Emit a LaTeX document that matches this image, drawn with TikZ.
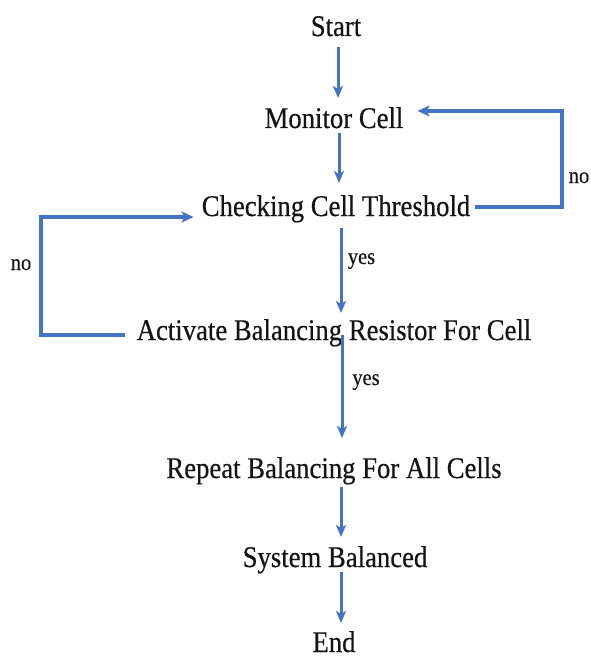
\documentclass[tikz,border=0pt]{standalone}
\usepackage{fontspec}
\setmainfont[FakeStretch=0.89,FakeBold=0.4]{Liberation Serif}
\usetikzlibrary{arrows.meta}
\definecolor{arrblue}{HTML}{4472C4}
\definecolor{txt}{HTML}{141414}
\tikzset{
  lbl/.style={inner sep=0pt, anchor=base, text=txt, font=\fontsize{30}{36}\selectfont},
  small/.style={inner sep=0pt, anchor=base, text=txt, font=\fontsize{23}{27}\selectfont},
  arr/.style={draw=arrblue, line width=3pt, -{Stealth[length=12pt,width=10pt,inset=3pt]}},
  loop/.style={draw=arrblue, line width=3.5pt, -{Stealth[length=12pt,width=11pt,inset=3pt]}}
}
\begin{document}
\begin{tikzpicture}[x=1pt,y=-1pt]
\useasboundingbox (0,0) rectangle (591,658);
\node[lbl] (start) at (336,36) {Start};
\node[lbl] (monitor) at (334,128) {Monitor Cell};
\node[lbl] (checking) at (336,216) {Checking Cell Threshold};
\node[lbl] (activate) at (334,340) {Activate Balancing Resistor For Cell};
\node[lbl] (repeat) at (334,478) {Repeat Balancing For All Cells};
\node[lbl] (system) at (335,567) {System Balanced};
\node[lbl] (end) at (334,652) {End};
\node[small] (yes1) at (361.5,264) {yes};
\node[small] (yes2) at (366,385) {yes};
\node[small] (noR) at (579,183) {no};
\node[small] (noL) at (21,270) {no};
\draw[arr] ([xshift=2pt,yshift=-11pt]start.base) -- ([xshift=4pt,yshift=30pt]monitor.base);
\draw[arr] ([xshift=5pt,yshift=-5pt]monitor.base) -- ([xshift=3pt,yshift=33pt]checking.base);
\draw[arr] ([xshift=5pt,yshift=-12pt]checking.base) -- ([xshift=7pt,yshift=27pt]activate.base);
\draw[arr] ([xshift=8pt,yshift=5pt]activate.base) -- ([xshift=8pt,yshift=40pt]repeat.base);
\draw[arr] ([xshift=7pt,yshift=-9pt]repeat.base) -- ([xshift=6pt,yshift=30pt]system.base);
\draw[arr] ([xshift=6pt,yshift=-5pt]system.base) -- ([xshift=7pt,yshift=29pt]end.base);
\coordinate (cE) at ([xshift=5pt,yshift=9pt]checking.base east);
\coordinate (mE) at ([xshift=14pt,yshift=17pt]monitor.base east);
\coordinate (rc) at (562,0);
\draw[loop] (cE) -| (rc |- mE) -- (mE);
\coordinate (aW) at ([xshift=-12pt,yshift=5pt]activate.base west);
\coordinate (kW) at ([xshift=-8pt,yshift=-1pt]checking.base west);
\coordinate (lc) at (41,0);
\draw[loop] (aW) -| (lc |- kW) -- (kW);
\end{tikzpicture}
\end{document}
